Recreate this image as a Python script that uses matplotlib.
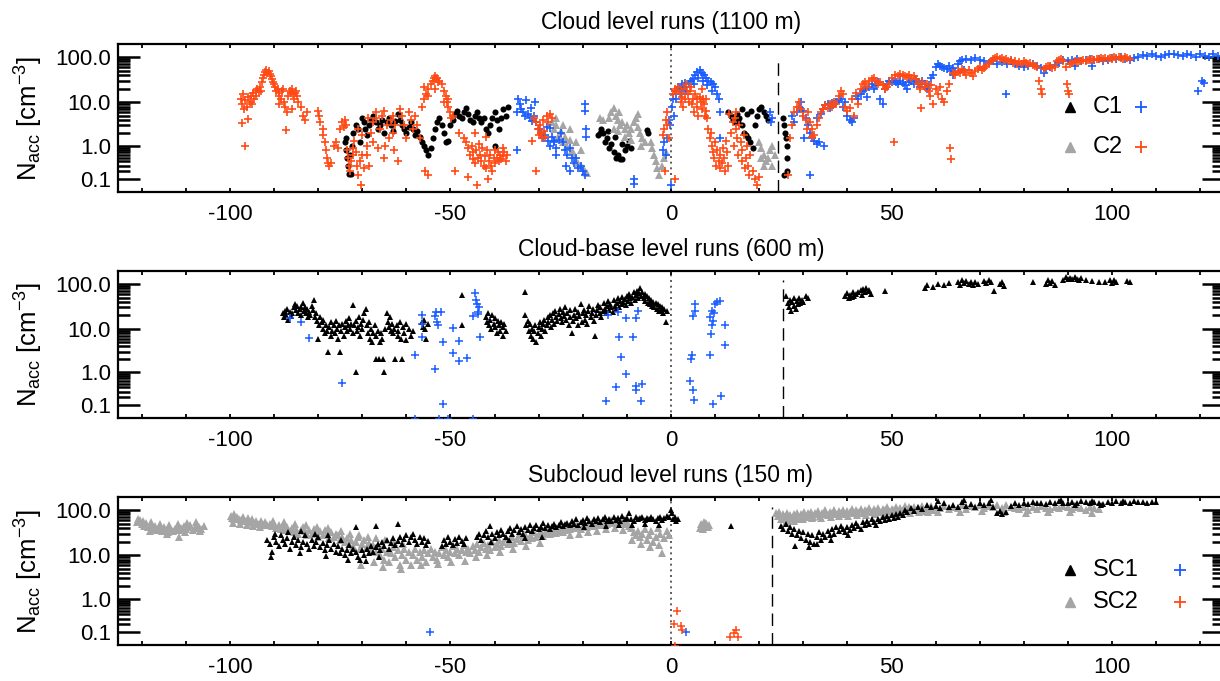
import numpy as np
import matplotlib
matplotlib.use('Agg')
import matplotlib.pyplot as plt
from matplotlib.ticker import FixedLocator, FixedFormatter, MultipleLocator

plt.rcParams['font.family'] = 'Liberation Sans'
plt.rcParams['mathtext.fontset'] = 'custom'
plt.rcParams['mathtext.rm'] = 'Liberation Sans'
plt.rcParams['mathtext.it'] = 'Liberation Sans:italic'

BLUE = '#1a5cff'
ORANGE = '#ff4a14'
GRAY = '#a5a5a5'

# ---- cloud level (1100 m) ----
c1_pts = [
    (-74.0, 1.2), (-73.8, 0.8), (-73.6, 1.5), (-73.5, 0.5), (-73.2, 0.3), (-73.0, 0.16), (-72.8, 0.6),
    (-72.5, 0.16), (-72.3, 1.0), (-72.0, 2.0), (-71.5, 3.0), (-71.0, 2.5), (-70.5, 1.2), (-70.0, 4.5),
    (-69.7, 3.5), (-69.3, 2.5), (-69.0, 1.8), (-68.5, 3.0), (-68.0, 4.0), (-67.5, 5.0), (-67.0, 3.5),
    (-66.5, 2.5), (-66.0, 3.0), (-65.5, 4.0), (-65.0, 2.0), (-64.5, 3.5), (-64.0, 4.5), (-63.5, 3.0),
    (-63.0, 2.2), (-62.5, 3.8), (-62.0, 5.5), (-61.5, 4.0), (-61.0, 3.0), (-60.5, 2.5), (-60.0, 2.0),
    (-59.5, 2.8), (-59.0, 3.5), (-58.5, 2.5), (-58.0, 1.8), (-57.5, 2.2), (-57.0, 1.6), (-56.5, 1.2),
    (-56.0, 1.0), (-55.5, 0.8), (-55.0, 0.6), (-54.5, 0.9), (-54.0, 1.5), (-53.5, 2.5), (-53.0, 3.5),
    (-52.5, 4.5), (-52.0, 3.0), (-51.5, 2.0), (-51.0, 1.2), (-50.5, 1.3), (-50.0, 3.0), (-49.5, 4.0),
    (-49.0, 5.5), (-48.5, 6.5), (-48.0, 5.0), (-47.5, 4.5), (-47.0, 6.0), (-46.5, 7.5), (-46.0, 5.5),
    (-45.5, 4.0), (-45.0, 3.5), (-44.5, 5.0), (-44.0, 6.0), (-43.5, 4.5), (-43.0, 3.5), (-42.5, 4.5),
    (-42.0, 2.5), (-41.5, 2.0), (-41.0, 3.0), (-40.5, 4.5), (-40.0, 6.0), (-39.8, 1.0), (-39.5, 4.0),
    (-39.0, 2.5), (-38.5, 4.5), (-38.0, 7.0), (-37.5, 5.0), (-37.0, 8.0),
    (-16.5, 1.8), (-16.0, 2.0), (-15.8, 2.5), (-15.5, 2.0), (-15.0, 1.2), (-14.5, 1.5), (-14.2, 2.2),
    (-14.0, 0.9), (-13.5, 1.1), (-13.0, 0.7), (-12.8, 1.6), (-12.5, 0.5), (-12.0, 0.6), (-11.5, 0.45),
    (-11.2, 1.1), (-11.0, 0.45), (-10.5, 0.8), (-10.0, 1.0), (-9.5, 1.3), (-9.0, 0.9), (-5.5, 2.3),
    (-5.2, 2.0),
    (13.0, 6.0), (13.5, 5.0), (14.0, 4.0), (14.5, 3.5), (15.0, 5.5), (15.2, 3.5), (15.5, 4.5),
    (16.0, 3.0), (16.2, 7.0), (16.5, 2.0), (17.0, 1.8), (17.2, 5.5), (17.5, 1.5), (18.0, 1.2),
    (18.2, 6.5), (18.5, 0.9), (19.0, 3.0), (19.5, 5.0), (20.0, 7.0), (20.5, 8.0), (21.0, 6.0),
    (21.5, 5.0), (22.0, 4.0),
    (25.5, 4.5), (25.6, 0.15), (25.7, 3.0), (25.9, 2.0), (26.0, 1.5), (26.2, 1.0), (26.3, 0.5), (26.4, 0.2),
]
c2_pts = [
    (-27.0, 3.5), (-26.5, 2.5), (-26.0, 3.0), (-26.0, 4.5), (-25.5, 1.8), (-25.0, 2.2), (-24.5, 1.2),
    (-24.5, 3.0), (-24.0, 1.6), (-23.5, 1.0), (-23.0, 1.4), (-23.0, 2.5), (-22.5, 0.8), (-22.0, 0.6),
    (-21.5, 0.4), (-21.5, 1.2), (-21.0, 0.35), (-20.5, 0.3), (-20.5, 0.8), (-20.0, 0.25), (-19.5, 0.2),
    (-19.0, 0.18), (-16.0, 4.5), (-15.5, 4.0),
    (-14.0, 4.5), (-13.5, 6.0), (-13.0, 7.5), (-13.0, 2.5), (-12.5, 5.0), (-12.0, 4.0), (-12.0, 2.2),
    (-11.8, 6.0), (-11.5, 3.0), (-11.0, 3.5), (-10.5, 2.5), (-10.5, 1.6), (-10.0, 3.0), (-9.5, 2.0),
    (-9.0, 2.5), (-9.0, 1.4), (-8.5, 3.5), (-8.0, 4.5), (-7.5, 2.8), (-7.5, 5.5), (-7.0, 2.0),
    (-6.8, 1.0), (-6.5, 1.5), (-6.0, 1.2),
    (-4.5, 1.2), (-4.2, 0.9), (-3.8, 0.6), (-3.5, 0.4), (-3.2, 0.25), (-2.8, 0.15), (-2.0, 0.3),
    (-1.5, 0.5), (-1.2, 0.7),
    (20.0, 1.2), (20.3, 0.5), (20.5, 0.9), (21.0, 0.6), (21.2, 0.3), (21.5, 0.4), (22.0, 0.5),
    (22.5, 0.8), (22.8, 0.3), (23.0, 1.0), (23.5, 0.6),
]
c1p_pts = [
    (-35.0, 6.0), (-34.9, 0.8), (-34.7, 12.0), (-34.3, 9.0), (-34.0, 7.0), (-33.5, 6.0), (-33.0, 5.0),
    (-32.8, 11.0), (-32.5, 5.5), (-32.0, 4.5), (-31.8, 7.5), (-31.5, 3.8), (-31.0, 5.0), (-30.8, 10.0),
    (-30.5, 3.5), (-30.0, 2.5), (-29.5, 2.0), (-29.0, 1.5), (-28.5, 1.8), (-28.2, 2.8), (-28.0, 1.3),
    (-27.5, 1.0), (-27.5, 2.6), (-27.0, 1.6), (-26.5, 1.2), (-26.5, 1.3), (-26.0, 0.9), (-26.0, 0.6),
    (-25.5, 1.4), (-25.0, 2.0), (-24.5, 1.2), (-24.0, 0.8), (-23.8, 0.3), (-23.5, 0.6), (-23.0, 0.9),
    (-22.8, 0.2), (-22.5, 0.5), (-22.0, 0.35), (-21.5, 0.5), (-21.0, 0.25), (-20.5, 0.3), (-20.0, 0.2),
    (-19.5, 0.15), (-19.5, 9.0), (-19.5, 6.5), (-19.2, 2.5), (-19.2, 1.6),
    (-8.4, 0.1), (-8.3, 0.06), (-1.8, 0.8), (-1.5, 1.2), (-1.2, 0.6), (-0.8, 1.5), (-0.5, 4.0),
    (-0.3, 3.0), (0.0, 0.05),
    (0.3, 8.0), (0.5, 12.0), (0.6, 5.0), (1.0, 18.0), (1.2, 12.0), (1.5, 22.0), (2.0, 20.0),
    (2.2, 15.0), (2.5, 25.0), (3.0, 22.0), (3.2, 27.0), (3.5, 18.0), (4.0, 25.0), (4.5, 30.0),
    (5.0, 32.0), (5.2, 25.0), (5.5, 40.0), (6.0, 48.0), (6.2, 35.0), (6.5, 52.0), (7.0, 45.0),
    (7.2, 30.0), (7.5, 40.0), (8.0, 35.0), (8.2, 24.0), (8.5, 30.0), (9.0, 28.0), (9.2, 18.0),
    (9.5, 25.0), (10.0, 22.0), (10.5, 15.0), (10.8, 12.0), (11.0, 6.0), (11.2, 1.5),
    (22.5, 6.0), (22.6, 3.5), (22.8, 4.5),
    (27.5, 5.0), (28.0, 3.5), (28.5, 6.0), (29.0, 8.0), (29.5, 10.0), (30.0, 6.5), (30.2, 1.5),
    (30.5, 4.5), (31.0, 3.0), (31.5, 2.0), (31.5, 0.15), (32.0, 1.5), (32.5, 1.3), (33.0, 1.1),
    (33.0, 4.5), (33.5, 1.2), (34.0, 5.5), (34.5, 7.0), (34.8, 1.0), (35.0, 8.5), (35.5, 9.0),
    (36.0, 7.5), (36.5, 9.5),
    (37.0, 9.0), (37.5, 10.0), (38.0, 11.0), (38.5, 12.0), (39.0, 8.0), (39.5, 10.0), (40.0, 5.0),
    (40.5, 4.0), (41.0, 3.5), (41.5, 4.5), (42.0, 14.0), (42.5, 12.0), (43.0, 15.0), (43.5, 18.0),
    (44.0, 20.0), (44.5, 13.0), (45.0, 22.0), (45.5, 25.0), (46.0, 20.0), (46.5, 24.0), (47.0, 28.0),
    (47.5, 12.0), (48.0, 9.0), (48.5, 20.0), (49.0, 26.0), (49.5, 30.0), (50.0, 28.0),
    (50.5, 30.0), (51.0, 28.0), (51.5, 25.0), (52.0, 30.0), (52.5, 27.0), (53.0, 24.0), (53.5, 20.0),
    (54.0, 28.0), (54.5, 30.0), (55.0, 26.0), (55.5, 32.0), (56.0, 28.0), (56.5, 22.0), (57.0, 30.0),
    (57.5, 26.0), (58.0, 20.0), (58.5, 24.0), (59.0, 35.0), (59.5, 40.0),
    (60.0, 60.0), (60.5, 70.0), (61.0, 65.0), (61.5, 60.0), (62.0, 58.0), (62.5, 55.0), (63.0, 62.0),
    (63.5, 50.0), (64.0, 58.0), (64.5, 48.0), (65.0, 70.0), (65.5, 80.0), (66.0, 85.0), (67.0, 90.0),
    (68.0, 85.0), (69.0, 95.0), (70.0, 88.0), (71.0, 80.0), (72.0, 75.0), (73.0, 82.0), (74.0, 70.0),
    (75.0, 78.0), (76.0, 15.0), (76.2, 72.0), (77.0, 80.0), (78.0, 70.0), (79.0, 65.0), (80.0, 60.0),
    (81.0, 62.0), (82.0, 70.0), (83.0, 65.0), (84.0, 58.0), (85.0, 55.0), (86.0, 60.0), (87.0, 68.0),
    (88.0, 75.0), (89.0, 85.0), (90.0, 80.0), (91.0, 85.0), (92.0, 90.0), (93.0, 82.0), (94.0, 88.0),
    (95.0, 92.0), (96.0, 85.0), (97.0, 90.0), (98.0, 82.0), (99.0, 88.0), (100.0, 95.0), (101.0, 90.0),
    (102.0, 98.0), (103.0, 92.0), (104.0, 88.0), (105.0, 95.0), (106.0, 100.0), (107.0, 110.0),
    (108.0, 105.0), (109.0, 115.0), (110.0, 108.0), (111.0, 100.0), (112.0, 112.0), (113.0, 118.0),
    (114.0, 120.0), (115.0, 110.0), (116.0, 105.0), (117.0, 115.0), (118.0, 110.0), (119.0, 100.0),
    (119.5, 18.0), (120.0, 115.0), (120.5, 30.0), (120.8, 27.0), (121.0, 108.0), (122.0, 100.0),
    (123.0, 115.0), (124.0, 105.0), (64.0, 40.0), (66.5, 52.0), (84.5, 45.0), (91.5, 62.0), (95.5, 65.0),
]
c2p_pts = [
    (-97.5, 12), (-97.3, 3.4), (-97.2, 9), (-97.0, 15), (-96.8, 7), (-96.6, 1.0), (-96.5, 11),
    (-96.2, 8), (-96.0, 13), (-95.9, 4.3), (-95.5, 10), (-95.2, 14), (-95.0, 9), (-94.8, 16),
    (-94.5, 12), (-94.2, 18), (-94.0, 14), (-93.8, 20), (-93.5, 17), (-93.2, 22), (-93.0, 18),
    (-92.8, 28), (-92.5, 35), (-92.2, 40), (-92.0, 48), (-91.8, 52), (-91.5, 45), (-91.2, 50),
    (-91.0, 42), (-90.8, 38), (-90.5, 32), (-90.2, 28), (-90.0, 25), (-89.8, 22), (-89.5, 18),
    (-89.2, 20), (-89.0, 16), (-89.0, 9), (-88.8, 14), (-88.5, 12), (-88.2, 18), (-88.0, 20),
    (-87.8, 10), (-87.5, 8), (-87.3, 2.3), (-87.0, 6), (-86.8, 14), (-86.5, 18), (-86.2, 16),
    (-86.0, 20), (-86.0, 7), (-85.8, 15), (-85.5, 12), (-85.2, 16), (-85.0, 18), (-84.8, 14), (-84.5, 10),
    (-84.0, 8), (-83.5, 5), (-83.0, 4), (-82.5, 6), (-80.0, 6.5), (-79.8, 5), (-79.5, 3.5),
    (-79.0, 2.5), (-78.8, 1.8), (-78.5, 1.2), (-78.2, 0.8), (-78.0, 0.5), (-77.8, 0.35), (-77.5, 0.3),
    (-77.0, 0.35), (-76.5, 1.0), (-76.0, 1.2), (-75.5, 0.9), (-75.0, 2.5), (-74.5, 3.5), (-74.2, 2.8),
    (-74.0, 4), (-73.8, 3), (-73.5, 0.8), (-73.2, 0.5), (-73.0, 0.3), (-72.8, 0.2), (-72.5, 0.4),
    (-72.2, 0.6), (-72.0, 0.9), (-71.8, 1.3), (-71.5, 0.7), (-71.2, 0.3), (-71.0, 0.15), (-71.0, 2.5),
    (-70.5, 0.4), (-70.2, 0.05), (-70.0, 0.6), (-70.0, 1.8), (-69.5, 0.25), (-69.0, 1.0), (-69.0, 0.6),
    (-68.8, 4.5), (-68.5, 0.3), (-68.0, 2.0), (-67.5, 3.5), (-67.5, 1.2), (-67.0, 4.5), (-66.8, 6),
    (-66.5, 0.9), (-66.0, 2.5), (-65.5, 5), (-65.0, 6.5), (-65.0, 0.5), (-64.8, 1.0), (-64.5, 3),
    (-64.0, 1.5), (-63.5, 4), (-63.0, 5), (-63.0, 2.0), (-62.8, 0.8), (-62.5, 3), (-62.0, 0.4),
    (-61.5, 7), (-61.0, 5), (-60.5, 3), (-60.0, 1.5),
    (-59.5, 6), (-59.0, 4), (-58.5, 2.5), (-58.0, 5), (-57.5, 3), (-57.0, 1.5), (-56.5, 8),
    (-56.0, 12), (-56.0, 22), (-55.8, 0.2), (-55.5, 15), (-55.2, 0.15), (-55.0, 20), (-55.0, 14),
    (-54.5, 25), (-54.0, 30), (-53.8, 35), (-53.5, 38), (-53.5, 20), (-53.2, 32), (-53.0, 35),
    (-52.8, 28), (-52.5, 30), (-52.0, 25), (-51.5, 18), (-51.5, 10), (-51.0, 14), (-50.8, 10),
    (-50.5, 8), (-50.5, 12), (-50.0, 6), (-49.8, 4.5), (-49.5, 5), (-49.0, 0.2), (-48.0, 2.0),
    (-47.0, 1.5), (-46.5, 1.2), (-46.0, 0.9), (-46.0, 0.12), (-45.5, 0.6), (-45.2, 1.0), (-45.0, 0.45),
    (-44.8, 0.7), (-44.5, 0.35), (-44.5, 2.0), (-44.2, 0.8), (-44.0, 0.05), (-43.8, 0.5), (-43.5, 1.1),
    (-43.2, 0.6), (-43.0, 0.4), (-42.8, 0.9), (-42.5, 0.3), (-42.2, 0.55), (-42.0, 0.25), (-42.0, 1.6),
    (-41.8, 0.8), (-41.5, 0.1), (-41.2, 0.4), (-41.0, 0.6), (-40.8, 0.3), (-40.5, 0.2), (-40.2, 0.5),
    (-40.0, 0.35), (-39.8, 0.8), (-39.5, 0.5), (-39.2, 0.7), (-39.0, 0.4), (-38.8, 0.6), (-38.5, 0.45),
    (-38.2, 0.9), (-38.0, 0.55), (-37.8, 0.7), (-37.5, 0.4), (-37.2, 0.6),
    (-31.5, 1.3), (-31.0, 4.5), (-30.5, 3.5), (-30.5, 0.2), (-30.2, 2.5), (-30.0, 1.8), (-29.8, 3),
    (-29.5, 2.0), (-29.2, 1.5), (-29.0, 4.0), (-28.8, 2.2), (-28.5, 1.6), (-28.2, 5.0), (-28.0, 3.5),
    (-27.5, 5.5), (-27.0, 4.5),
    (-1.8, 1.8), (-1.5, 2.5), (-1.3, 0.2), (-1.2, 4.0), (-1.0, 6.0), (-0.8, 3.0), (-0.5, 1.5),
    (0.5, 15), (0.8, 20), (1.0, 0.1), (1.2, 18), (1.5, 22), (2.0, 16), (2.2, 10), (2.5, 13),
    (2.8, 8), (3.0, 20), (3.2, 12), (3.5, 25), (3.8, 15), (4.0, 10), (4.2, 18), (4.5, 22),
    (4.8, 9), (5.0, 12), (5.2, 6), (5.5, 15), (5.8, 12), (6.0, 8), (6.2, 5), (6.5, 13),
    (6.8, 10), (7.0, 7), (7.0, 20), (7.2, 12), (7.5, 9), (7.8, 5), (8.0, 6.5), (8.0, 12),
    (8.2, 4.5), (8.5, 2.5), (8.8, 1.5), (9.0, 2.0), (9.2, 1.0), (9.5, 0.7), (9.8, 0.5), (10.0, 1.2),
    (10.2, 0.3), (10.5, 0.8), (10.8, 0.4), (11.0, 0.25), (11.2, 0.6), (11.5, 0.35), (11.8, 0.9),
    (12.0, 0.5), (12.2, 0.2), (12.5, 1.3), (12.8, 0.7), (13.0, 0.3), (13.2, 5.5), (13.5, 2.0),
    (14.0, 3.5), (14.2, 1.0), (14.5, 4.5), (14.8, 2.5), (14.8, 6.0), (15.0, 1.5), (15.2, 0.6),
    (15.5, 3.0), (15.8, 1.2), (16.0, 0.8), (16.2, 0.4), (16.5, 1.8), (16.8, 0.25), (17.0, 0.5),
    (17.2, 1.0), (17.5, 0.3), (17.8, 0.15), (18.0, 0.6), (18.5, 0.2), (19.0, 0.1), (19.5, 0.05),
    (20.0, 0.12),
    (26.5, 0.15), (27.0, 1.5), (27.5, 3.0), (28.0, 6.0), (28.5, 8.0), (29.0, 10.0), (29.5, 7.0),
    (30.0, 5.0), (30.5, 4.0), (30.8, 2.5), (31.0, 6.0), (31.5, 3.5), (32.0, 2.5), (32.0, 1.6),
    (32.5, 1.8), (33.0, 3.0), (33.5, 4.5), (34.0, 6.0), (34.5, 7.0), (35.0, 8.5), (35.5, 7.5),
    (36.0, 9.0), (36.5, 8.0), (37.0, 10.0), (37.5, 9.0), (38.0, 14.0), (38.5, 18.0), (39.0, 15.0),
    (39.5, 8.0), (40.0, 6.5), (40.5, 7.5), (41.0, 12.0), (41.5, 5.0), (42.0, 16.0), (42.5, 9.0),
    (43.0, 20.0), (43.5, 25.0), (44.0, 28.0), (44.5, 22.0), (45.0, 30.0), (45.5, 32.0), (46.0, 35.0),
    (46.5, 30.0), (47.0, 26.0), (47.5, 28.0), (48.0, 24.0), (48.5, 20.0), (49.0, 22.0), (49.5, 25.0),
    (50.0, 35.0), (50.5, 1.2), (50.8, 40.0), (51.5, 38.0), (52.0, 42.0), (52.5, 40.0), (53.0, 38.0),
    (53.5, 36.0), (54.0, 40.0), (54.5, 35.0), (55.0, 38.0), (55.5, 32.0), (56.0, 25.0), (56.5, 20.0),
    (56.8, 7.5), (57.0, 28.0), (57.5, 22.0), (58.0, 26.0), (58.5, 18.0), (58.8, 14.0), (59.0, 24.0),
    (59.5, 9.0), (60.0, 20.0), (60.5, 15.0), (61.0, 22.0), (61.5, 12.0), (62.0, 10.0), (62.5, 18.0),
    (63.0, 25.0), (63.3, 0.9), (63.6, 0.45), (64.0, 45.0), (64.5, 40.0), (65.0, 50.0), (65.5, 45.0),
    (66.0, 55.0), (66.5, 48.0), (67.0, 40.0), (67.5, 52.0), (68.0, 45.0), (68.5, 38.0), (69.0, 50.0),
    (69.5, 55.0), (70.0, 60.0), (70.5, 52.0), (71.0, 58.0), (71.5, 65.0), (72.0, 70.0), (72.5, 80.0),
    (73.0, 90.0), (73.5, 95.0), (74.0, 100.0), (74.5, 90.0), (75.0, 95.0), (75.5, 85.0), (76.0, 90.0),
    (76.5, 80.0), (77.0, 85.0), (77.5, 75.0), (78.0, 80.0), (78.5, 70.0), (79.0, 78.0), (79.5, 72.0),
    (80.0, 80.0), (80.5, 75.0), (81.0, 70.0), (81.5, 75.0), (82.0, 68.0), (82.5, 65.0), (83.0, 60.0),
    (83.5, 30.0), (84.0, 20.0), (84.2, 15.0), (84.5, 55.0), (85.0, 60.0), (85.5, 65.0), (86.0, 62.0),
    (86.5, 58.0), (87.0, 60.0), (87.5, 80.0), (88.0, 85.0), (88.5, 90.0), (89.0, 80.0), (89.5, 60.0),
    (89.8, 25.0), (90.0, 18.0), (90.2, 15.0), (90.5, 70.0), (91.0, 75.0), (91.5, 80.0), (92.0, 78.0),
    (92.5, 82.0), (93.0, 80.0), (93.5, 85.0), (94.0, 82.0), (94.5, 88.0), (95.0, 85.0), (95.5, 90.0),
    (96.0, 88.0), (96.5, 92.0), (97.0, 90.0), (97.5, 95.0), (98.0, 92.0), (98.5, 95.0), (99.0, 90.0),
    (99.5, 95.0), (100.0, 92.0), (100.5, 98.0), (101.0, 95.0), (101.5, 100.0), (102.0, 95.0),
    (102.5, 92.0), (103.0, 98.0), (103.5, 95.0), (104.0, 90.0),
]

# ---- cloud-base level (600 m) ----
cb_pts = [
    (-88.0, 22), (-87.8, 18), (-87.5, 25), (-87.3, 20), (-87.0, 28), (-86.8, 16), (-86.5, 24),
    (-86.2, 19), (-86.0, 22), (-85.5, 30), (-85.2, 35), (-85.0, 26), (-84.8, 32), (-84.5, 22),
    (-84.2, 28), (-84.0, 20), (-83.8, 30), (-83.5, 38), (-83.2, 25), (-83.0, 30), (-82.8, 22),
    (-82.5, 28), (-82.2, 18), (-82.0, 24), (-81.8, 20), (-81.5, 32), (-81.2, 26), (-81.0, 45),
    (-80.8, 18), (-80.5, 22), (-80.2, 15), (-80.0, 6), (-79.8, 12), (-79.5, 18), (-79.2, 14),
    (-79.0, 10), (-78.8, 16), (-78.5, 8), (-78.2, 12), (-78.0, 9), (-77.7, 3), (-77.5, 11),
    (-77.2, 7), (-77.0, 14), (-76.8, 9), (-76.5, 12), (-76.2, 8), (-76.0, 15), (-75.8, 10),
    (-75.5, 6), (-75.2, 12), (-75.0, 3), (-74.8, 9), (-74.5, 13), (-74.2, 7), (-74.0, 11),
    (-73.8, 15), (-73.5, 9), (-73.2, 12), (-73.0, 17), (-72.8, 10), (-72.5, 13), (-72.2, 8),
    (-72.0, 34), (-71.8, 12), (-71.5, 1.0), (-71.5, 15), (-71.2, 9), (-71.0, 11), (-70.8, 18),
    (-70.5, 7), (-70.2, 13), (-70.0, 10), (-69.8, 16), (-69.5, 22), (-69.2, 28), (-69.0, 12),
    (-68.8, 8), (-68.5, 14), (-68.2, 6), (-68.0, 10), (-67.8, 5), (-67.5, 8), (-67.2, 12),
    (-67.0, 2), (-66.8, 7), (-66.5, 9), (-66.2, 2), (-66.0, 5), (-65.8, 8), (-65.5, 6),
    (-65.2, 2), (-65.0, 1.0), (-64.8, 10), (-64.5, 22), (-64.2, 14), (-64.0, 11), (-63.8, 18),
    (-63.5, 9), (-63.2, 13), (-63.0, 8), (-62.8, 10), (-62.5, 2), (-62.2, 12), (-62.0, 7),
    (-61.8, 9), (-61.5, 14), (-61.2, 6), (-61.0, 2), (-60.8, 11), (-60.5, 8), (-60.2, 13),
    (-60.0, 5.5), (-59.5, 10), (-59.0, 7), (-58.5, 9), (-56.5, 14), (-56.2, 11), (-56.0, 16),
    (-55.8, 10), (-55.5, 6), (-55.2, 13), (-47.5, 57), (-47.5, 12),
    (-42.0, 18), (-41.8, 14), (-41.5, 22), (-41.2, 12), (-41.0, 16), (-40.8, 10), (-40.5, 20),
    (-40.2, 13), (-40.0, 17), (-39.8, 11), (-39.5, 8), (-39.2, 15), (-39.0, 12), (-38.8, 9),
    (-38.5, 14), (-38.2, 7), (-38.0, 11), (-37.8, 13), (-37.5, 9),
    (-33.0, 66), (-33.0, 20), (-32.8, 12), (-32.5, 15), (-32.2, 9), (-32.0, 13), (-31.8, 7),
    (-31.5, 10), (-31.2, 6), (-31.0, 9), (-30.8, 12), (-30.5, 5), (-30.2, 8), (-30.0, 11),
    (-29.8, 14), (-29.5, 7), (-29.2, 10), (-29.0, 13), (-28.8, 16), (-28.5, 9), (-28.2, 12),
    (-28.0, 18), (-27.8, 14), (-27.5, 20), (-27.2, 11), (-27.0, 16), (-26.8, 22), (-26.5, 13),
    (-26.2, 25), (-26.0, 18), (-25.8, 15), (-25.5, 21), (-25.2, 28), (-25.0, 17), (-24.8, 14),
    (-24.5, 24), (-24.2, 19), (-24.0, 30), (-23.8, 16), (-23.5, 22), (-23.2, 12), (-23.0, 26),
    (-22.8, 18), (-22.5, 8), (-22.2, 15), (-22.0, 20), (-21.8, 28), (-21.5, 17), (-21.2, 12),
    (-21.0, 24), (-20.8, 19), (-20.5, 35), (-20.2, 14), (-20.0, 22), (-19.8, 27), (-19.5, 16),
    (-19.2, 20), (-19.0, 13), (-18.8, 25), (-18.5, 32), (-18.2, 18), (-18.0, 23), (-17.8, 28),
    (-17.5, 15), (-17.2, 7), (-17.0, 20), (-16.8, 26), (-16.5, 34), (-16.2, 22), (-16.0, 30),
    (-15.8, 18), (-15.5, 25), (-15.2, 38), (-15.0, 28), (-14.8, 22), (-14.5, 32), (-14.2, 42),
    (-14.0, 26), (-13.8, 35), (-13.5, 30), (-13.2, 24), (-13.0, 45), (-12.8, 33), (-12.5, 28),
    (-12.2, 38), (-12.0, 48), (-11.8, 30), (-11.5, 42), (-11.2, 36), (-11.0, 52), (-10.8, 40),
    (-10.5, 46), (-10.2, 34), (-10.0, 55), (-9.8, 42), (-9.5, 60), (-9.2, 48), (-9.0, 38),
    (-8.8, 52), (-8.5, 65), (-8.2, 45), (-8.0, 58), (-7.8, 70), (-7.5, 50), (-7.2, 62),
    (-7.0, 80), (-6.8, 55), (-6.5, 68), (-6.2, 48), (-6.0, 60), (-5.8, 42), (-5.5, 55),
    (-5.2, 38), (-5.0, 50), (-4.8, 35), (-4.5, 45), (-4.2, 32), (-4.0, 40), (-3.8, 30),
    (-3.5, 38), (-3.2, 28), (-3.0, 35), (-2.8, 25), (-2.5, 32), (-2.2, 26), (-2.0, 30),
    (-1.8, 22), (-1.5, 28), (-1.2, 14), (-1.0, 25),
    (26.0, 55), (26.5, 38), (26.8, 30), (27.0, 45), (27.3, 25), (27.5, 40), (27.8, 32),
    (28.0, 48), (28.3, 28), (28.5, 42), (28.8, 35), (29.0, 50), (29.3, 38), (29.6, 45),
    (30.0, 40), (30.5, 55), (31.0, 48),
    (39.5, 55), (40.0, 62), (40.3, 48), (40.6, 58), (41.0, 52), (41.3, 65), (41.6, 55),
    (42.0, 60), (42.5, 68), (43.0, 72), (43.3, 58), (43.6, 78), (44.0, 65), (44.3, 82),
    (44.6, 70), (45.0, 75), (45.3, 60), (48.5, 70),
    (57.5, 80), (58.0, 95), (59.5, 85), (60.5, 100), (62.0, 95), (63.0, 105), (65.0, 110),
    (65.5, 95), (66.0, 120), (66.5, 105), (67.0, 115), (67.5, 100), (68.0, 112), (68.5, 95),
    (69.0, 108), (69.5, 100), (71.0, 118), (71.5, 105), (72.0, 125), (72.5, 110), (73.2, 70),
    (74.5, 100), (75.0, 112), (75.5, 90), (82.0, 110), (85.0, 100), (85.5, 120), (86.0, 105),
    (86.5, 115), (87.0, 95), (89.0, 125), (89.5, 140), (90.0, 130), (90.5, 135), (91.0, 128),
    (91.5, 140), (92.0, 132), (92.5, 125), (93.0, 138), (94.0, 120), (95.5, 115), (97.0, 112),
    (98.5, 110), (99.5, 120), (100.0, 105), (100.5, 125), (101.0, 110), (103.5, 118), (104.0, 108),
]
cbp_pts = [
    (-86.3, 17), (-84.0, 14), (-82.0, 6.2), (-74.6, 0.53), (-58.0, 2.6), (-58.0, 0.0), (-56.5, 20),
    (-56.5, 13), (-56.5, 6.6), (-53.5, 19), (-53.2, 24), (-52.2, 24), (-53.0, 14), (-52.8, 12),
    (-53.6, 1.2), (-51.7, 5.0), (-51.7, 0.12), (-52.5, 0.0), (-50.5, 0.0), (-49.5, 10.5),
    (-49.5, 2.8), (-48.0, 5.3), (-48.0, 1.8), (-46.3, 2.2), (-44.8, 0.0), (-44.5, 63), (-44.3, 45),
    (-44.0, 35), (-43.8, 24), (-43.6, 30), (-43.8, 21), (-43.4, 6.6), (-44.8, 19),
    (-14.3, 20), (-12.1, 24), (-11.9, 6.6), (-11.4, 2.3), (-12.4, 0.4), (-14.7, 0.15), (-10.2, 0.9),
    (-10.2, 17), (-8.7, 6.6), (-8.0, 17), (-7.5, 25), (-8.0, 0.45), (-7.9, 0.35), (-6.7, 0.15),
    (-6.5, 0.5),
    (5.5, 35), (5.4, 25), (5.0, 19), (4.8, 2.6), (4.6, 2.0), (4.3, 0.6), (5.0, 0.35), (5.2, 0.17),
    (8.8, 18), (9.2, 25), (9.5, 15), (10.0, 35), (10.5, 40), (11.0, 42), (9.3, 12), (9.0, 7.7),
    (9.7, 23), (8.8, 2.6), (9.5, 0.12), (11.3, 0.22), (12.3, 12), (12.3, 4.3),
]

# ---- subcloud level (150 m) ----
sc1_pts = [
    (-91.5, 22), (-91.0, 18), (-90.8, 9), (-90.5, 12), (-90.0, 25), (-89.8, 30), (-89.5, 20),
    (-89.0, 16), (-88.5, 28), (-88.0, 22), (-87.5, 18), (-87.0, 24), (-86.8, 32), (-86.5, 14),
    (-86.0, 20), (-85.5, 26), (-85.0, 17), (-84.5, 22), (-84.2, 11), (-84.0, 15), (-83.8, 35),
    (-83.5, 20), (-83.0, 28), (-82.5, 18), (-82.0, 14), (-81.5, 22), (-81.0, 16), (-80.8, 30),
    (-80.5, 20), (-80.0, 25), (-79.5, 15), (-79.0, 19), (-78.5, 13), (-78.2, 9.5), (-78.0, 17),
    (-77.8, 28), (-77.5, 22), (-77.0, 14), (-76.5, 18), (-76.0, 12), (-75.5, 16), (-75.0, 11),
    (-74.8, 22), (-74.5, 14), (-74.0, 10), (-73.5, 13), (-73.2, 8), (-73.0, 17), (-72.5, 11),
    (-72.0, 14), (-71.5, 42), (-71.5, 12), (-71.0, 9), (-70.5, 8), (-70.0, 13), (-69.5, 10),
    (-69.2, 7.5), (-69.0, 14), (-68.5, 11), (-68.0, 16), (-67.5, 12), (-67.0, 45), (-67.0, 15),
    (-66.5, 18), (-66.2, 9), (-66.0, 13), (-65.5, 20), (-65.0, 16), (-64.5, 22), (-64.0, 14),
    (-63.5, 19), (-63.0, 24), (-62.5, 17), (-62.0, 50), (-62.0, 21), (-61.5, 26), (-61.0, 18),
    (-60.5, 23), (-60.0, 28), (-59.5, 20), (-59.0, 25), (-58.5, 30), (-58.0, 22), (-57.5, 18),
    (-57.0, 26), (-56.5, 20), (-56.0, 24), (-55.5, 17), (-55.0, 21),
    (-52.0, 16), (-51.5, 22), (-51.0, 18), (-50.5, 25), (-50.0, 20), (-49.5, 17), (-49.0, 23),
    (-48.5, 19), (-48.0, 26), (-47.5, 21), (-47.0, 18), (-46.5, 24),
    (-44.0, 25), (-43.5, 30), (-43.0, 22), (-42.5, 28), (-42.0, 34), (-41.5, 26), (-41.0, 45),
    (-40.8, 20), (-40.5, 30), (-40.0, 24), (-39.5, 32), (-39.0, 28), (-38.5, 36), (-38.0, 30),
    (-37.5, 26), (-37.0, 34), (-36.8, 22), (-36.5, 40), (-36.0, 30), (-35.5, 36), (-35.0, 45),
    (-34.5, 33), (-34.0, 38), (-33.5, 30), (-33.2, 24), (-33.0, 42), (-32.5, 36), (-32.0, 48),
    (-31.5, 34), (-31.0, 40), (-30.5, 46), (-30.0, 38), (-29.5, 42), (-29.2, 26), (-29.0, 52),
    (-28.5, 40), (-28.0, 46), (-27.5, 38), (-27.0, 44), (-26.5, 50), (-26.0, 42), (-25.5, 48),
    (-25.0, 55), (-24.5, 44), (-24.0, 50),
    (-23.5, 52), (-23.0, 46), (-22.5, 58), (-22.0, 50), (-21.5, 62), (-21.0, 48), (-20.5, 55),
    (-20.0, 60), (-19.8, 42), (-19.5, 52), (-19.0, 66), (-18.5, 56), (-18.0, 50), (-17.5, 62),
    (-17.0, 58), (-16.5, 68), (-16.0, 54), (-15.5, 62), (-15.0, 70), (-14.8, 45), (-14.5, 58),
    (-14.0, 64), (-13.5, 56), (-13.0, 72), (-12.5, 60), (-12.0, 66), (-11.8, 48), (-11.5, 58),
    (-11.0, 75), (-10.5, 62), (-10.0, 68), (-9.5, 85), (-9.0, 64), (-8.8, 46), (-8.5, 58),
    (-8.0, 70), (-7.5, 62), (-7.0, 66), (-6.5, 72), (-6.0, 60), (-5.8, 50), (-5.5, 68),
    (-5.0, 64), (-4.5, 70), (-4.0, 62), (-3.5, 58), (-3.0, 66), (-2.8, 48), (-2.5, 72),
    (-2.0, 60), (-1.5, 68), (-1.0, 75), (-0.5, 70), (0.0, 100), (0.2, 85), (0.5, 62),
    (0.8, 70), (1.2, 58), (1.5, 65), (13.6, 45),
    (25.0, 45), (25.5, 38), (26.0, 50), (26.5, 35), (27.0, 42), (27.5, 30), (28.0, 38),
    (28.2, 16), (28.5, 28), (29.0, 35), (29.5, 24), (30.0, 32), (30.5, 22), (31.0, 30),
    (31.2, 15), (31.5, 20), (32.0, 28), (32.5, 18), (33.0, 26), (33.2, 18), (33.5, 32),
    (34.0, 22), (34.5, 30), (35.0, 25), (35.5, 34), (36.0, 28), (36.2, 22), (36.5, 38),
    (37.0, 30), (37.5, 42), (38.0, 35), (38.5, 45), (39.0, 38), (39.5, 32), (40.0, 42),
    (40.2, 28), (40.5, 36), (41.0, 48), (41.5, 40), (42.0, 52), (42.5, 44), (43.0, 38),
    (43.5, 55), (44.0, 46), (44.5, 58), (45.0, 50), (45.5, 62), (46.0, 54), (46.5, 48),
    (47.0, 65), (47.5, 56), (48.0, 70), (48.5, 60), (49.0, 74), (49.5, 64), (50.0, 78),
    (50.5, 68), (51.0, 82), (51.5, 72), (52.0, 86), (52.5, 76), (53.0, 100), (53.5, 90),
    (54.5, 110), (55.0, 95), (56.0, 120), (57.0, 105), (58.0, 130), (59.0, 115), (60.0, 125),
    (60.5, 160), (61.0, 110), (62.0, 140), (63.0, 120), (64.0, 130), (65.0, 115), (66.0, 150),
    (66.5, 170), (67.0, 125), (68.0, 135), (69.0, 120), (70.0, 145), (71.0, 130), (72.0, 140),
    (72.5, 165), (73.0, 115), (74.0, 85), (74.5, 95), (75.0, 80), (76.0, 90), (77.0, 125),
    (78.0, 140), (79.0, 130), (80.0, 145), (81.0, 135), (82.0, 150), (83.0, 140), (84.0, 145),
    (85.0, 135), (86.0, 150), (87.0, 140), (88.0, 155), (88.5, 165), (89.0, 145), (90.0, 140),
    (91.0, 150), (91.5, 130), (92.0, 142), (93.0, 155), (94.0, 148), (95.0, 140), (95.5, 160),
    (96.0, 152), (97.0, 145), (97.5, 128), (98.0, 135), (99.0, 150), (100.0, 145), (101.0, 155),
    (102.0, 140), (102.5, 162), (103.0, 150), (104.0, 145), (105.0, 155), (106.0, 148),
    (107.0, 152), (108.0, 145), (109.0, 150), (110.0, 148),
]
sc2_pts = [
    (-121.0, 55), (-120.8, 65), (-120.5, 60), (-120.0, 50), (-119.8, 58), (-119.5, 45), (-119.0, 52),
    (-118.5, 42), (-118.2, 35), (-118.0, 48), (-117.8, 55), (-117.5, 38), (-117.0, 44), (-116.5, 36),
    (-116.0, 40), (-115.8, 50), (-115.5, 34), (-115.0, 42), (-114.5, 37), (-114.2, 30), (-114.0, 33),
    (-113.8, 48), (-113.5, 40), (-113.0, 35), (-112.5, 38), (-112.0, 42), (-111.8, 50), (-111.5, 25),
    (-111.5, 36), (-111.0, 40), (-110.5, 44), (-110.2, 32), (-110.0, 38), (-109.8, 52), (-109.5, 42),
    (-109.0, 46), (-108.5, 36), (-108.0, 40), (-107.8, 55), (-107.5, 48), (-107.0, 42), (-106.8, 34),
    (-106.5, 38), (-106.0, 45),
    (-99.8, 75), (-99.5, 68), (-99.3, 52), (-99.2, 62), (-99.0, 80), (-98.5, 72), (-98.0, 65),
    (-97.8, 50), (-97.5, 60), (-97.0, 70), (-96.5, 58), (-96.2, 48), (-96.0, 66), (-95.5, 55),
    (-95.0, 62), (-94.8, 45), (-94.5, 52), (-94.0, 58), (-93.5, 50), (-93.2, 42), (-93.0, 56),
    (-92.5, 48), (-92.0, 54), (-91.5, 46),
    (-91.0, 50), (-90.5, 44), (-90.2, 58), (-90.0, 48), (-89.5, 40), (-89.0, 46), (-88.5, 38),
    (-88.0, 44), (-87.8, 54), (-87.5, 36), (-87.0, 42), (-86.5, 34), (-86.0, 40), (-85.5, 32),
    (-85.2, 50), (-85.0, 38), (-84.5, 30), (-84.0, 36), (-83.5, 42), (-83.0, 34), (-82.8, 48),
    (-82.5, 28), (-82.0, 36), (-81.5, 30), (-81.0, 38), (-80.5, 32), (-80.2, 42), (-80.0, 26),
    (-79.5, 34), (-79.0, 28), (-78.5, 36), (-78.0, 30), (-77.8, 40), (-77.5, 24), (-77.0, 32),
    (-76.5, 26), (-76.0, 30),
    (-75.5, 28), (-75.0, 22), (-74.8, 35), (-74.5, 26), (-74.0, 20), (-73.5, 24), (-73.0, 18),
    (-72.8, 30), (-72.5, 22), (-72.0, 16), (-71.5, 20), (-71.0, 25), (-70.8, 28), (-70.5, 14),
    (-70.3, 6), (-70.0, 18), (-69.5, 22), (-69.0, 15), (-68.8, 26), (-68.5, 19), (-68.0, 13),
    (-67.5, 17), (-67.3, 7), (-67.0, 12), (-66.8, 24), (-66.5, 16), (-66.0, 10), (-65.5, 14),
    (-65.3, 5.5), (-65.0, 8), (-64.8, 22), (-64.5, 12), (-64.0, 7), (-63.5, 11), (-63.0, 15),
    (-62.8, 20), (-62.5, 9), (-62.0, 13), (-61.5, 6), (-61.3, 5), (-61.0, 10), (-60.8, 18),
    (-60.5, 14), (-60.0, 8), (-59.5, 12), (-59.0, 6),
    (-58.5, 10), (-58.0, 14), (-57.5, 8), (-57.0, 12), (-56.8, 6), (-56.5, 9), (-56.0, 13),
    (-55.5, 7), (-55.0, 11), (-54.5, 14), (-54.0, 9), (-53.5, 12), (-53.0, 8), (-52.8, 6.5),
    (-52.5, 11), (-52.0, 15), (-51.5, 10), (-51.0, 13), (-50.5, 9), (-50.0, 12), (-49.8, 7),
    (-49.5, 16), (-49.0, 11), (-48.5, 14), (-48.0, 10), (-47.5, 13), (-47.0, 17), (-46.8, 7.5),
    (-46.5, 12),
    (-46.0, 14), (-45.5, 11), (-45.0, 16), (-44.5, 13), (-44.2, 9), (-44.0, 18), (-43.5, 12),
    (-43.0, 15), (-42.5, 19), (-42.0, 14), (-41.8, 10), (-41.5, 17), (-41.0, 13), (-40.5, 20),
    (-40.0, 15), (-39.5, 18), (-39.0, 22), (-38.8, 12), (-38.5, 16), (-38.0, 20), (-37.5, 24),
    (-37.0, 18), (-36.5, 21), (-36.0, 26), (-35.8, 14), (-35.5, 19), (-35.0, 23), (-34.5, 28),
    (-34.0, 21), (-33.5, 25), (-33.0, 30), (-32.8, 16), (-32.5, 22), (-32.0, 27), (-31.5, 24),
    (-31.0, 32), (-30.5, 26), (-30.0, 29), (-29.8, 19), (-29.5, 34), (-29.0, 27), (-28.5, 31),
    (-28.0, 36), (-27.5, 29), (-27.0, 33), (-26.5, 38), (-26.0, 31), (-25.5, 35), (-25.0, 40),
    (-24.5, 33), (-24.0, 37),
    (-23.5, 42), (-23.0, 38), (-22.8, 28), (-22.5, 45), (-22.0, 40), (-21.5, 47), (-21.0, 42),
    (-20.8, 30), (-20.5, 38), (-20.0, 45), (-19.5, 50), (-19.0, 43), (-18.8, 32), (-18.5, 48),
    (-18.0, 52), (-17.5, 45), (-17.0, 50), (-16.8, 35), (-16.5, 55), (-16.0, 48), (-15.5, 52),
    (-15.0, 58), (-14.8, 38), (-14.5, 50), (-14.0, 55), (-13.5, 60), (-13.0, 52), (-12.8, 40),
    (-12.5, 56), (-12.0, 62), (-11.5, 54), (-11.0, 58), (-10.8, 36), (-10.5, 50), (-10.0, 55),
    (-9.5, 45), (-9.0, 40), (-8.8, 22), (-8.5, 32), (-8.0, 28), (-7.5, 35), (-7.0, 25),
    (-6.8, 18), (-6.5, 30), (-6.0, 38), (-5.5, 22), (-5.0, 28), (-4.8, 15), (-4.5, 35),
    (-4.0, 20), (-3.5, 26), (-3.0, 40), (-2.8, 17), (-2.5, 30), (-2.0, 11), (-1.5, 24),
    (-1.0, 35), (-0.5, 28),
    (6.5, 40), (6.8, 50), (7.1, 45), (7.2, 38), (7.4, 55), (7.7, 48), (8.0, 52), (8.3, 42), (8.6, 46),
    (23.8, 85), (24.2, 75), (24.6, 90), (25.0, 65), (25.4, 80), (25.8, 70), (26.0, 55), (26.2, 85),
    (26.6, 60), (27.0, 78), (27.4, 68), (27.8, 82), (28.0, 58), (28.2, 72), (28.6, 88), (29.0, 65),
    (29.4, 80), (29.8, 75), (30.0, 62), (30.2, 90), (30.6, 70), (31.0, 85), (31.4, 78), (31.8, 92),
    (32.0, 66), (32.2, 72), (32.6, 86), (33.0, 80), (33.4, 95), (33.8, 75), (34.0, 67), (34.2, 88),
    (34.6, 82), (35.0, 98), (35.5, 78), (36.0, 92), (36.2, 70), (36.5, 85), (37.0, 100), (37.5, 80),
    (38.0, 95), (38.2, 73), (38.5, 88), (39.0, 102), (39.5, 84), (40.0, 96), (40.2, 74), (40.5, 90),
    (41.0, 105), (41.5, 86), (42.0, 98), (42.2, 77), (42.5, 92), (43.0, 108), (43.5, 88), (44.0, 100),
    (44.2, 79), (44.5, 94), (45.0, 110), (45.5, 90), (46.0, 104), (46.2, 81), (46.5, 96), (47.0, 112),
    (47.5, 92), (48.0, 106), (48.2, 83), (48.5, 98), (49.0, 115), (49.5, 94), (50.0, 108), (50.2, 84),
    (50.5, 100), (51.0, 118), (51.5, 96), (52.0, 110), (52.2, 87), (52.5, 102), (53.0, 125), (53.5, 98),
    (54.0, 115), (54.2, 88), (54.5, 105), (55.0, 120), (55.5, 100), (56.0, 112), (56.2, 90), (56.5, 108),
    (57.0, 125), (57.5, 95), (58.0, 115), (58.2, 91), (58.5, 105), (59.0, 122), (59.5, 100), (60.0, 118),
    (60.5, 90), (61.0, 110), (62.0, 125), (63.0, 105), (64.0, 120), (65.0, 112), (65.5, 92), (66.0, 128),
    (67.0, 108), (68.0, 122), (69.0, 115), (70.0, 130), (70.5, 95), (71.0, 110), (72.0, 125), (73.0, 118),
    (74.0, 132), (75.0, 112), (75.5, 92), (76.0, 128), (77.0, 120), (78.0, 110), (79.0, 105), (80.0, 118),
    (80.5, 88), (81.0, 100), (82.0, 115), (83.0, 108), (84.0, 122), (85.0, 112), (85.5, 90), (86.0, 105),
    (87.0, 118), (88.0, 110), (89.0, 125), (90.0, 115), (90.5, 92), (91.0, 108), (92.0, 120), (93.0, 112),
    (94.0, 102), (95.0, 118), (95.5, 88), (96.0, 110), (97.0, 105),
]
sc1p_pts = [(-54.6, 0.1), (3.5, 0.1)]
sc2p_pts = [
    (1.3, 0.5), (0.7, 0.2), (2.3, 0.18), (2.6, 0.13), (0.8, 0.0), (13.4, 0.056), (14.3, 0.09),
    (14.8, 0.13), (15.2, 0.056),
]

titles = ['Cloud level runs (1100 m)', 'Cloud-base level runs (600 m)', 'Subcloud level runs (150 m)']
dash_x = [24.3, 25.4, 22.9]
dash_top = [0.905, 0.94, 0.93]
ytick_vals = [0.1, 1.0, 10.0, 100.0]
ytick_labels = ['0.1', '1.0', '10.0', '100.0']
ytick_minor = [0.2, 0.3, 0.4, 0.5, 0.6, 0.7, 0.8, 0.9, 2, 3, 4, 5, 6, 7, 8, 9,
               20, 30, 40, 50, 60, 70, 80, 90]
xtick_vals = [-100, -50, 0, 50, 100]
xtick_labels = ['-100', '-50', '0', '50', '100']


def fwd(n):
    return np.log10(np.maximum(np.asarray(n, dtype=float) + 0.1, 1e-6))


def inv(g):
    return 10.0 ** np.asarray(g, dtype=float) - 0.1


def xy(pts):
    a = np.array(pts, dtype=float)
    return a[:, 0], a[:, 1]


def setup(ax, title, dx, dtop):
    ax.set_yscale('function', functions=(fwd, inv))
    ax.set_xlim(-125.4, 125.4)
    ax.set_ylim(inv(-0.98), inv(2.29))
    ax.yaxis.set_major_locator(FixedLocator(ytick_vals))
    ax.yaxis.set_major_formatter(FixedFormatter(ytick_labels))
    ax.yaxis.set_minor_locator(FixedLocator(ytick_minor))
    ax.yaxis.set_minor_formatter(FixedFormatter([]))
    ax.xaxis.set_major_locator(FixedLocator(xtick_vals))
    ax.xaxis.set_major_formatter(FixedFormatter(xtick_labels))
    ax.xaxis.set_minor_locator(MultipleLocator(10))
    ax.tick_params(axis='y', which='major', direction='in', length=16, width=1.8,
                   right=True, labelsize=16, pad=5)
    ax.tick_params(axis='y', which='minor', direction='in', length=8.5, width=1.8, right=True)
    ax.tick_params(axis='x', which='both', direction='in', length=3, width=1.3,
                   top=True, labelsize=16, pad=9)
    for s in ax.spines.values():
        s.set_linewidth(1.6)
    ax.axvline(0, color='#444444', ls=(0, (1.2, 2.2)), lw=1.2, zorder=1)
    ax.axvline(dx, ymax=dtop, color='black', ls=(0, (9, 5)), lw=1.0, zorder=1)
    ax.set_title(title, fontsize=16.5, pad=11)
    ax.set_ylabel(r'N$_{\rm acc}$ [cm$^{-3}$]', fontsize=18.5)
    ax.yaxis.set_label_coords(-0.066, 0.5)


def legend_rows(ax, rows, xm, xt, xp):
    for (lab, tcol, pcol, yy) in rows:
        ax.plot([xm], [yy], marker='^', color=tcol, ms=7, ls='none', transform=ax.transAxes)
        ax.text(xt, yy, lab, fontsize=17, va='center', ha='left', transform=ax.transAxes)
        ax.plot([xp], [yy], marker='+', color=pcol, ms=9, mew=1.3, ls='none', transform=ax.transAxes)


fig = plt.figure(figsize=(12.2, 6.81), dpi=100)
boxes = [(0.0967, 0.7181, 0.9066, 0.2173),
         (0.0967, 0.3862, 0.9066, 0.2159),
         (0.0967, 0.0529, 0.9066, 0.2173)]
axes = [fig.add_axes(b) for b in boxes]
for ax, t, dx, dt in zip(axes, titles, dash_x, dash_top):
    setup(ax, t, dx, dt)

# cloud level
ax = axes[0]
x, y = xy(c1_pts)
ax.plot(x, y, 'o', color='black', ms=4.4, mew=0, zorder=3)
x, y = xy(c2_pts)
ax.plot(x, y, '^', color=GRAY, ms=5.2, mew=0, zorder=3)
x, y = xy(c1p_pts)
ax.plot(x, y, '+', color=BLUE, ms=6, mew=1.2, zorder=4)
x, y = xy(c2p_pts)
ax.plot(x, y, '+', color=ORANGE, ms=6, mew=1.2, zorder=4)
legend_rows(ax, [('C1', 'black', BLUE, 0.574), ('C2', GRAY, ORANGE, 0.304)], 0.861, 0.881, 0.925)

# cloud-base level
ax = axes[1]
x, y = xy(cb_pts)
ax.plot(x, y, '^', color='black', ms=4.2, mew=0, zorder=3)
x, y = xy(cbp_pts)
ax.plot(x, y, '+', color=BLUE, ms=5.5, mew=1.1, zorder=4)

# subcloud level
ax = axes[2]
x, y = xy(sc2_pts)
ax.plot(x, y, '^', color=GRAY, ms=6, mew=0, zorder=3)
x, y = xy(sc1_pts)
ax.plot(x, y, '^', color='black', ms=4.6, mew=0, zorder=3)
x, y = xy(sc1p_pts)
ax.plot(x, y, '+', color=BLUE, ms=5.5, mew=1.1, zorder=4)
x, y = xy(sc2p_pts)
ax.plot(x, y, '+', color=ORANGE, ms=5.5, mew=1.1, zorder=4)
legend_rows(ax, [('SC1', 'black', BLUE, 0.507), ('SC2', GRAY, ORANGE, 0.293)], 0.861, 0.881, 0.960)

fig.savefig('out.png', dpi=100)
